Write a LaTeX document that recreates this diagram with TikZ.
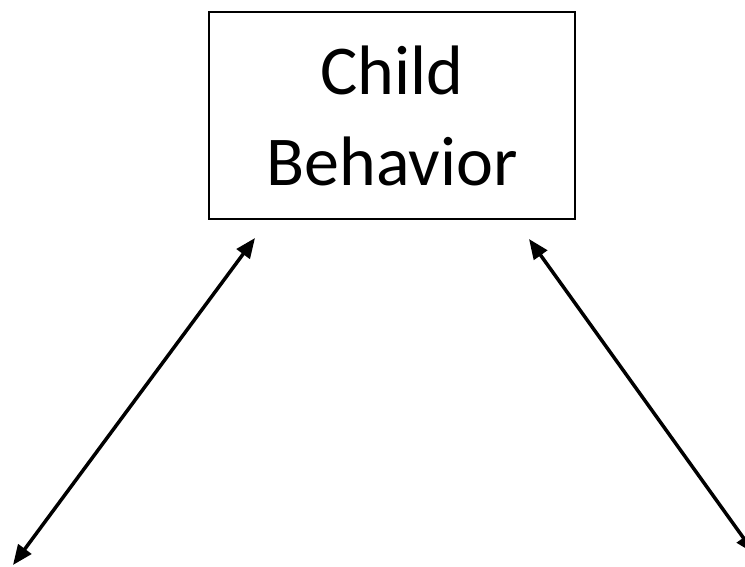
\documentclass[tikz,border=0pt]{standalone}
\usepackage{fontspec}
\setmainfont{Carlito}
\usetikzlibrary{arrows.meta, positioning}

\begin{document}
\begin{tikzpicture}[x=1pt, y=-1pt, >={Triangle[length=20pt, width=16pt]}]
        \clip (0,0) rectangle (745,567);
        \node[draw, line width=2.4pt, minimum width=366pt, minimum height=207pt, align=center, font=\fontsize{70}{91}\selectfont] (behavior) at (392,115.5) {Child\\Behavior};

        \coordinate (lefttop) at (255,238);
        \coordinate (leftend) at (13,565);
        \coordinate (righttop) at (529,239);
        \coordinate (rightend) at (755,554);

        \draw[line width=3.5pt, <->] (lefttop) -- (leftend);
        \draw[line width=3.5pt, <->] (righttop) -- (rightend);
    \end{tikzpicture}
\end{document}
